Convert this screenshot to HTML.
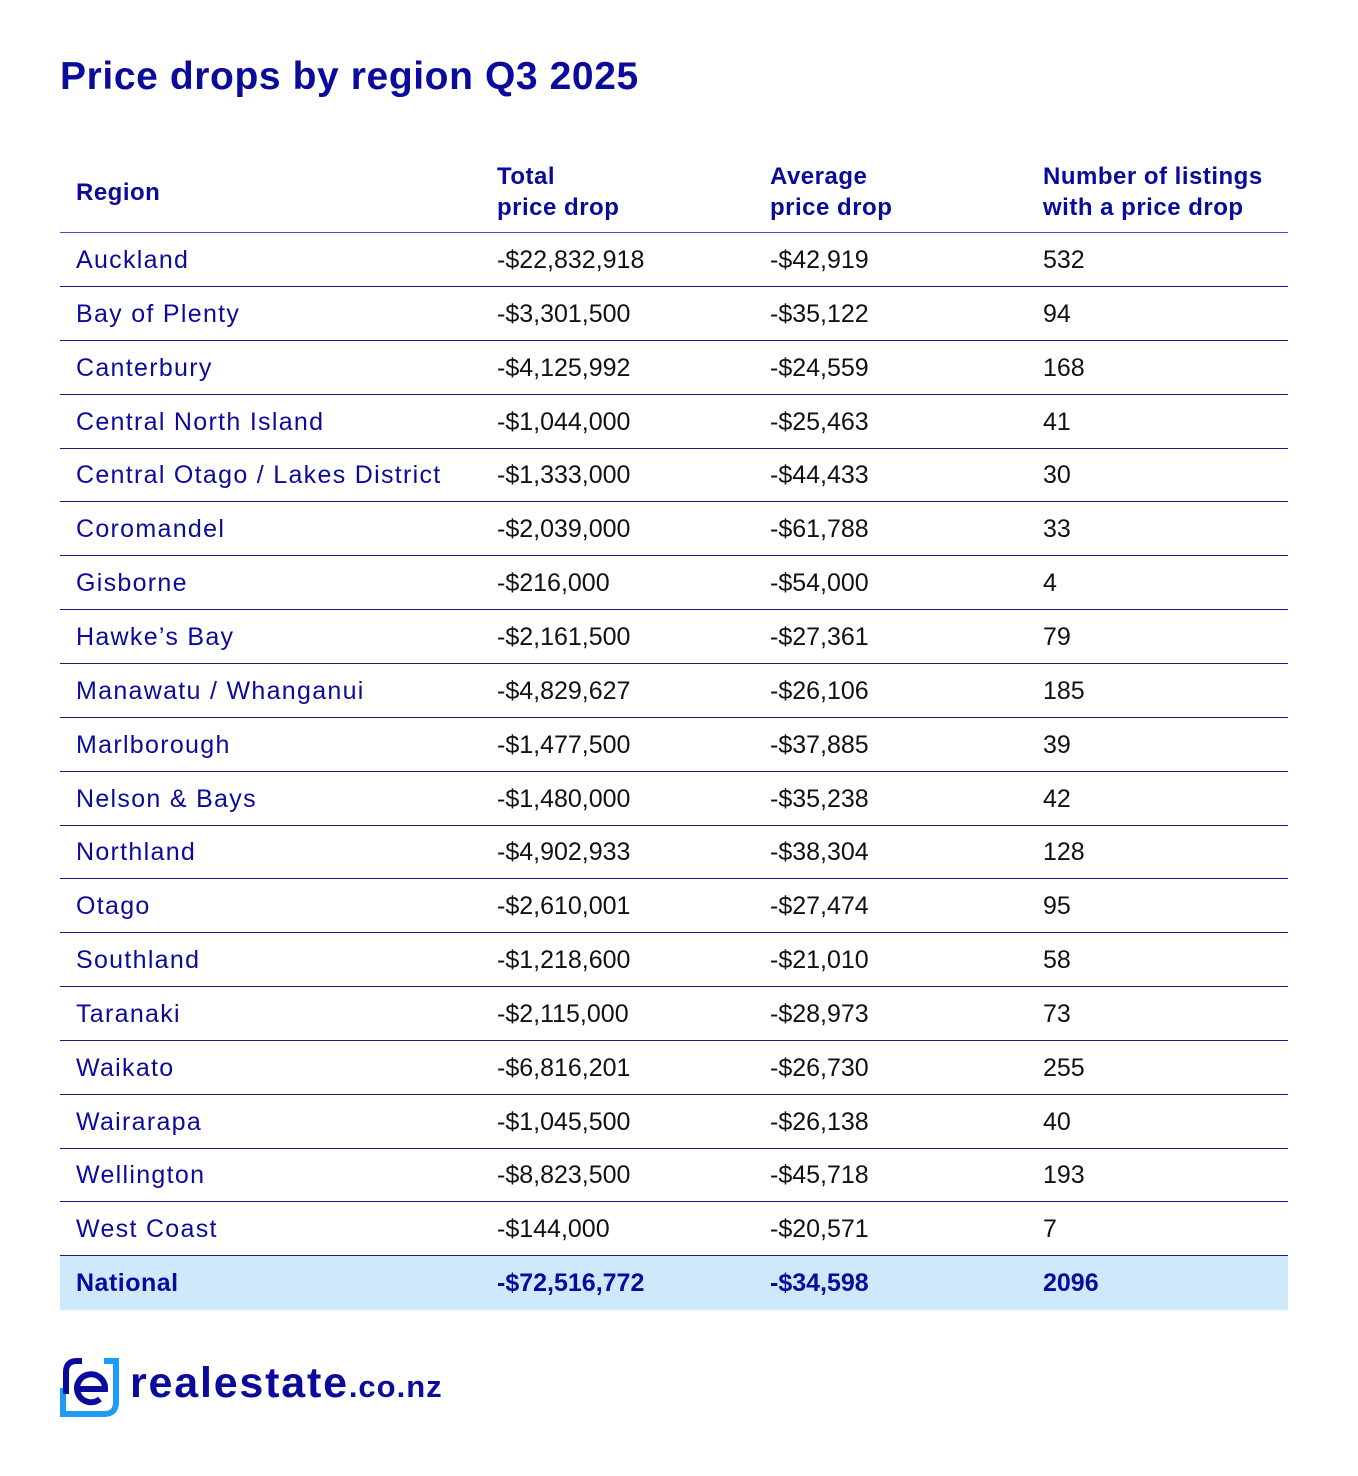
<!DOCTYPE html>
<html><head><meta charset="utf-8">
<style>
body{margin:0;width:1358px;height:1476px;background:#fff;font-family:"Liberation Sans",sans-serif;position:relative;overflow:hidden}
.t{position:absolute;left:60px;top:55px;font-size:39px;font-weight:bold;color:#0a0a9c;letter-spacing:0.6px}
.h{position:absolute;font-size:24px;font-weight:bold;color:#0a0a9c;line-height:31px;letter-spacing:0.5px}
.row{position:absolute;left:60px;width:1228px;height:54px;border-bottom:1px solid #1a1a8c;box-sizing:border-box}
.c{position:absolute;top:0;line-height:54px;font-size:25px;color:#111}
.c0{left:16px;color:#0a0a9c;letter-spacing:1.3px}
.c1{left:437px}.c2{left:710px}.c3{left:983px}
.nat{background:#cde9fb;border-bottom:none}
.nat .c{font-weight:bold;color:#0a0a9c}
.nat .c0{letter-spacing:0.5px}
.logo{position:absolute;left:60px;top:1358px}
.lt{position:absolute;left:130px;top:1359px;font-size:43px;font-weight:bold;color:#0a0a9c;letter-spacing:1.8px}
.lt span{font-size:31px;letter-spacing:1px}
</style></head><body>
<div class="t">Price drops by region Q3 2025</div>
<div class="h" style="left:76px;top:177px">Region</div>
<div class="h" style="left:497px;top:161px">Total<br>price drop</div>
<div class="h" style="left:770px;top:161px">Average<br>price drop</div>
<div class="h" style="left:1043px;top:161px">Number of listings<br>with a price drop</div>
<div style="position:absolute;left:60px;top:232px;width:1228px;height:1px;background:#4a4ad0"></div>
<div id="rows"></div>
<svg class="logo" width="60" height="60" viewBox="0 0 60 60">
<path d="M44 3 H56 V44 Q56 56 44 56 H3 V30" fill="none" stroke="#1e9cf5" stroke-width="6"/>
<path d="M6 36 V14 Q6 3 17 3 H22" fill="none" stroke="#0a0a9c" stroke-width="6"/>
<path d="M17 31 H45 A14 14 0 1 0 40 41" fill="none" stroke="#0a0a9c" stroke-width="6"/>
</svg>
<div class="lt">realestate<span>.co.nz</span></div>
<script>
const regions=["Auckland","Bay of Plenty","Canterbury","Central North Island","Central Otago / Lakes District","Coromandel","Gisborne","Hawke’s Bay","Manawatu / Whanganui","Marlborough","Nelson & Bays","Northland","Otago","Southland","Taranaki","Waikato","Wairarapa","Wellington","West Coast","National"];
const totals=["-$22,832,918","-$3,301,500","-$4,125,992","-$1,044,000","-$1,333,000","-$2,039,000","-$216,000","-$2,161,500","-$4,829,627","-$1,477,500","-$1,480,000","-$4,902,933","-$2,610,001","-$1,218,600","-$2,115,000","-$6,816,201","-$1,045,500","-$8,823,500","-$144,000","-$72,516,772"];
const averages=["-$42,919","-$35,122","-$24,559","-$25,463","-$44,433","-$61,788","-$54,000","-$27,361","-$26,106","-$37,885","-$35,238","-$38,304","-$27,474","-$21,010","-$28,973","-$26,730","-$26,138","-$45,718","-$20,571","-$34,598"];
const counts=["532","94","168","41","30","33","4","79","185","39","42","128","95","58","73","255","40","193","7","2096"];
const box=document.getElementById('rows');
regions.forEach((r,i)=>{
  const row=document.createElement('div');
  row.className='row'+(i===regions.length-1?' nat':'');
  row.style.top=(233+i*53.85)+'px';
  
  
  [r,totals[i],averages[i],counts[i]].forEach((v,j)=>{
    const c=document.createElement('div');
    c.className='c c'+j;
    c.textContent=v;
    
    
    row.appendChild(c);
  });
  box.appendChild(row);
});
</script>
</body></html>
